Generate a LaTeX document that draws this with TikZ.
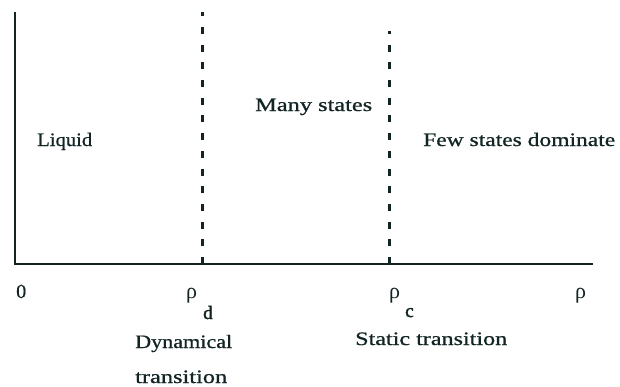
\documentclass[tikz,border=0pt]{standalone}
\usepackage{fontspec}
\usepackage{graphicx}
\setmainfont{Liberation Serif}[FakeBold=0.7]
\newfontfamily\grk{Liberation Serif}
\newfontfamily\subf{Liberation Serif}[FakeBold=2.2]
\definecolor{ink}{RGB}{18,36,36}
\newcommand{\fitw}[2]{\resizebox{#1}{\height}{#2}}
\begin{document}
\begin{tikzpicture}[x=1pt,y=-1pt,
  lbl/.style={anchor=base west,inner sep=0pt,text=ink,font=\fontsize{19}{22}\selectfont},
  sub/.style={lbl,font=\fontsize{19}{22}\selectfont\subf},
  rholbl/.style={lbl,font=\fontsize{22}{25}\selectfont\grk},
  axisline/.style={draw=ink,line width=2.8pt},
  trans/.style={draw=ink,line width=3pt,dash pattern=on 7pt off 10.7pt}]
\useasboundingbox (0,0) rectangle (620,386);
\coordinate (O) at (15,264);
\coordinate (ytop) at (15,12);
\coordinate (xend) at (593,264);
\coordinate (d0) at (202,264);
\coordinate (d1) at (202,12);
\coordinate (c0) at (389,264);
\coordinate (c1) at (389,31);
\draw[axisline] (ytop) -- (O) -- (xend);
\draw[trans] (d0) -- (d1);
\draw[trans] (c0) -- (c1);
\node[lbl] (many) at (255,111) {\fitw{117pt}{Many states}};
\node[lbl] (liquid) at (37,146) {\fitw{55pt}{Liquid}};
\node[lbl] (few) at (423,146) {\fitw{192pt}{Few states dominate}};
\node[lbl,font=\fontsize{20}{23}\selectfont] (zero) at (16,298) {0};
\node[rholbl] (rhod) at (186,298) {ρ};
\node[sub] (subd) at (203,319) {d};
\node[rholbl] (rhoc) at (389,298) {ρ};
\node[sub] (subc) at (405,317) {c};
\node[rholbl] (rho) at (575,298) {ρ};
\node[lbl] (dyn1) at (135,348) {\fitw{97pt}{Dynamical}};
\node[lbl] (dyn2) at (135,383) {\fitw{92pt}{transition}};
\node[lbl] (stat) at (355,345) {\fitw{152pt}{Static transition}};
\end{tikzpicture}
\end{document}
